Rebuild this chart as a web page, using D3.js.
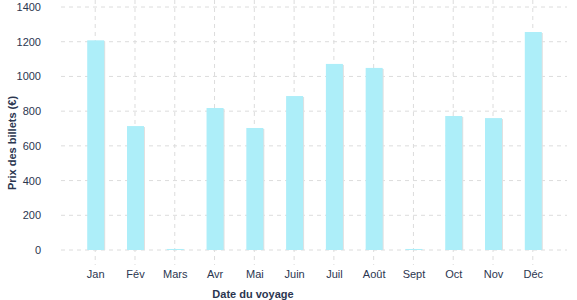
<!DOCTYPE html>
<html>
<head>
<meta charset="utf-8">
<script src="https://cdn.jsdelivr.net/npm/d3@7"></script>
<style>
  body { margin: 0; background: #fff; }
  svg { font-family: "Liberation Sans", Arial, sans-serif; }
</style>
</head>
<body>
<div class="graph"></div>
<script>
// data
var months = ["Jan", "Fév", "Mars", "Avr", "Mai", "Juin", "Juil", "Août", "Sept", "Oct", "Nov", "Déc"];
var prices = [1208, 714, 6, 818, 703, 887, 1072, 1049, 6, 772, 760, 1256];
var yTicks = [0, 200, 400, 600, 800, 1000, 1200, 1400];

var width = 577, height = 300;
var plotLeft = 61, plotRight = 567, plotTop = 7, plotBottom = 250;

var svg = d3.select(".graph").append("svg")
    .attr("width", width)
    .attr("height", height);

var x = d3.scalePoint()
    .domain(months)
    .range([plotLeft, plotRight])
    .padding(0.86);

var y = d3.scaleLinear()
    .domain([0, 1400])
    .range([plotBottom, plotTop]);

var textColor = "#2b3650";

// horizontal grid
svg.append("g").selectAll("line")
    .data(yTicks)
    .enter().append("line")
    .attr("x1", plotLeft).attr("x2", plotRight)
    .attr("y1", function (d) { return y(d); })
    .attr("y2", function (d) { return y(d); })
    .attr("stroke", "#dcdcdc")
    .attr("stroke-dasharray", "4,4");

// vertical grid (extends below axis as ticks)
svg.append("g").selectAll("line")
    .data(months)
    .enter().append("line")
    .attr("x1", function (d) { return x(d); })
    .attr("x2", function (d) { return x(d); })
    .attr("y1", 0).attr("y2", 265)
    .attr("stroke", "#dcdcdc")
    .attr("stroke-dasharray", "4,4");

var bw = 17;

// bar shadows
svg.append("g").selectAll("rect")
    .data(prices)
    .enter().append("rect")
    .attr("x", function (d, i) { return x(months[i]) - bw / 2 + 1.5; })
    .attr("y", function (d) { return y(d) + 1; })
    .attr("width", bw)
    .attr("height", function (d) { return Math.max(0, plotBottom - y(d) - 1); })
    .attr("fill", "#e0e0e0");

// bars
svg.append("g").selectAll("rect")
    .data(prices)
    .enter().append("rect")
    .attr("x", function (d, i) { return x(months[i]) - bw / 2 + 0.5; })
    .attr("y", function (d) { return y(d); })
    .attr("width", bw)
    .attr("height", function (d) { return plotBottom - y(d); })
    .attr("fill", "#adeef9");

// y axis labels
var yAxis = d3.axisLeft(y).tickValues(yTicks).tickFormat(d3.format("d")).tickSize(0).tickPadding(0);
var gy = svg.append("g")
    .attr("transform", "translate(41,0)")
    .call(yAxis);
gy.select(".domain").remove();
gy.selectAll("text")
    .attr("fill", textColor)
    .style("font-size", "11px");

// x axis labels
var xAxis = d3.axisBottom(x).tickSize(0).tickPadding(0);
var gx = svg.append("g")
    .attr("transform", "translate(0,270)")
    .call(xAxis);
gx.select(".domain").remove();
gx.selectAll("text")
    .attr("fill", textColor)
    .style("font-size", "11px");

// axis titles
svg.append("text")
    .attr("x", 253).attr("y", 298)
    .attr("text-anchor", "middle")
    .attr("fill", textColor)
    .style("font-size", "11px")
    .style("font-weight", "bold")
    .text("Date du voyage");

svg.append("text")
    .attr("transform", "translate(16,143) rotate(-90)")
    .attr("text-anchor", "middle")
    .attr("fill", textColor)
    .style("font-size", "11px")
    .style("font-weight", "bold")
    .text("Prix des billets (€)");
</script>
</body>
</html>
